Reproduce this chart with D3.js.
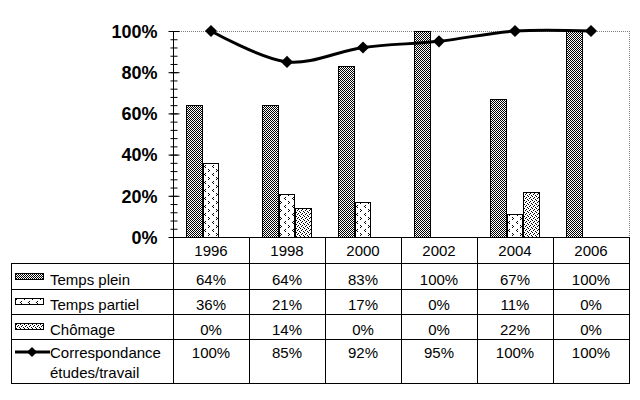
<!DOCTYPE html>
<html><head><meta charset="utf-8">
<script src="https://cdn.jsdelivr.net/npm/d3@7"></script>
<style>body{margin:0;background:#fff}svg{display:block}text{font-family:"Liberation Sans",Arial,sans-serif}</style>
</head><body>
<svg id="c" width="640" height="400"></svg>
<script>
const years = ["1996","1998","2000","2002","2004","2006"];
const seriesNames = ["Temps plein","Temps partiel","Chômage"];
const tempsPlein = [64,64,83,100,67,100];
const tempsPartiel = [36,21,17,0,11,0];
const chomage = [0,14,0,0,22,0];
const correspondance = [100,85,92,95,100,100];
const lineName = ["Correspondance","études/travail"];
const yTicks = [0,20,40,60,80,100];

const svg = d3.select("#c");
const defs = svg.append("defs");
function pat(id,w,h,pts){
  const p = defs.append("pattern").attr("id",id).attr("patternUnits","userSpaceOnUse").attr("width",w).attr("height",h);
  p.append("rect").attr("width",w).attr("height",h).attr("fill","#fff");
  pts.forEach(([a,b])=>p.append("rect").attr("x",a).attr("y",b).attr("width",1).attr("height",1).attr("fill","#000"));
}
pat("p0",2,2,[[0,0],[1,1]]);
pat("p1",8,8,[[0,1],[1,2],[0,3],[5,5],[4,6],[5,7]]);
pat("p2",4,4,[[0,0],[2,1],[1,2],[3,3]]);
const fills = ["url(#p0)","url(#p1)","url(#p2)"];
const seriesData = [tempsPlein,tempsPartiel,chomage];

const L=173, R=629, T=31, B=237;
const x = d3.scaleBand().domain(years).range([L,R]);
const y = d3.scaleLinear().domain([0,100]).range([B,T]);
const bw = x.bandwidth();
const inner = d3.scaleBand().domain(seriesNames).range([bw/2-24.75, bw/2+24.75]);

// plot frame (dotted gray top & right)
svg.append("line").attr("x1",L).attr("x2",R).attr("y1",T+0.5).attr("y2",T+0.5).attr("stroke","#808080").attr("stroke-dasharray","1,1");
svg.append("line").attr("x1",R+0.5).attr("x2",R+0.5).attr("y1",T).attr("y2",B).attr("stroke","#808080").attr("stroke-dasharray","1,1");

// bars
seriesNames.forEach((s,si)=>{
  svg.append("g").selectAll("rect").data(years.map((yr,i)=>({yr,v:seriesData[si][i]})).filter(d=>d.v>0))
    .join("rect")
    .attr("x",d=>x(d.yr)+inner(s)+0.5)
    .attr("y",d=>y(d.v)+0.5)
    .attr("width",inner.bandwidth()-1)
    .attr("height",d=>B-y(d.v))
    .attr("fill",fills[si]).attr("stroke","#000").attr("stroke-width",1).attr("shape-rendering","crispEdges");
});

// y axis
const minorTicks = d3.range(0,101,4);
const gMinor = svg.append("g").attr("transform",`translate(${L+0.5},0)`)
  .call(d3.axisLeft(y).tickValues(minorTicks).tickFormat("").tickSize(0));
gMinor.select(".domain").remove();
gMinor.selectAll(".tick line").attr("x1",-3).attr("x2",4).attr("stroke","#000");
const gAxis = svg.append("g").attr("transform",`translate(${L+0.5},0)`)
  .call(d3.axisLeft(y).tickValues(yTicks).tickFormat(d=>d+"%").tickSize(0).tickPadding(16));
gAxis.select(".domain").attr("d",`M0,${T}V${B}`).attr("stroke","#000");
gAxis.selectAll(".tick line").attr("x1",-5).attr("x2",6).attr("stroke","#000");
gAxis.selectAll(".tick text").attr("font-size",18).attr("font-weight","bold").attr("fill","#000")
  .attr("font-family","'Liberation Sans',Arial,sans-serif").attr("dy","0.35em");

// line
const lineGen = d3.line().x((d,i)=>x(years[i])+bw/2).y(d=>y(d)).curve(d3.curveCardinal.tension(0));
svg.append("path").attr("d",lineGen(correspondance)).attr("fill","none").attr("stroke","#000").attr("stroke-width",3);
svg.append("g").selectAll("path").data(correspondance).join("path")
  .attr("d",d3.symbol().type(d3.symbolSquare).size(74))
  .attr("transform",(d,i)=>`translate(${x(years[i])+bw/2},${y(d)}) rotate(45)`)
  .attr("fill","#000");

// table
const tbl = svg.append("g").attr("shape-rendering","crispEdges").attr("stroke","#000");
const rowsY = [263,289,314,339,383];
tbl.append("line").attr("x1",L).attr("x2",R+1).attr("y1",B+0.5).attr("y2",B+0.5);
rowsY.forEach(yy=>tbl.append("line").attr("x1",11).attr("x2",R+1).attr("y1",yy+0.5).attr("y2",yy+0.5));
tbl.append("line").attr("x1",11.5).attr("x2",11.5).attr("y1",263).attr("y2",384);
const bounds = years.map(d=>x(d)).concat([R]);
bounds.forEach(bx=>tbl.append("line").attr("x1",Math.round(bx)+0.5).attr("x2",Math.round(bx)+0.5).attr("y1",B).attr("y2",384));

const tx = svg.append("g").attr("font-size",15).attr("fill","#000");
tx.selectAll("text.yr").data(years).join("text").attr("class","yr")
  .attr("x",d=>x(d)+bw/2).attr("y",256).attr("text-anchor","middle").text(d=>d);
const rowBase = [285,310,335,358];
const allRows = [tempsPlein,tempsPartiel,chomage,correspondance];
allRows.forEach((arr,ri)=>{
  tx.append("g").selectAll("text").data(arr).join("text")
    .attr("x",(d,i)=>x(years[i])+bw/2).attr("y",rowBase[ri]).attr("text-anchor","middle").text(d=>d+"%");
});
seriesNames.forEach((s,si)=>{
  tx.append("text").attr("x",50).attr("y",rowBase[si]).text(s);
  svg.append("rect").attr("x",15.5).attr("y",rowBase[si]-11.5).attr("width",28).attr("height",6)
    .attr("fill",fills[si]).attr("stroke","#000").attr("shape-rendering","crispEdges");
});
tx.append("text").attr("x",50).attr("y",358).text(lineName[0]);
tx.append("text").attr("x",50).attr("y",378).text(lineName[1]);
svg.append("line").attr("x1",15).attr("x2",50).attr("y1",352).attr("y2",352).attr("stroke","#000").attr("stroke-width",3);
svg.append("path").attr("d",d3.symbol().type(d3.symbolSquare).size(50)).attr("transform","translate(32,352) rotate(45)").attr("fill","#000");
</script>
</body></html>
